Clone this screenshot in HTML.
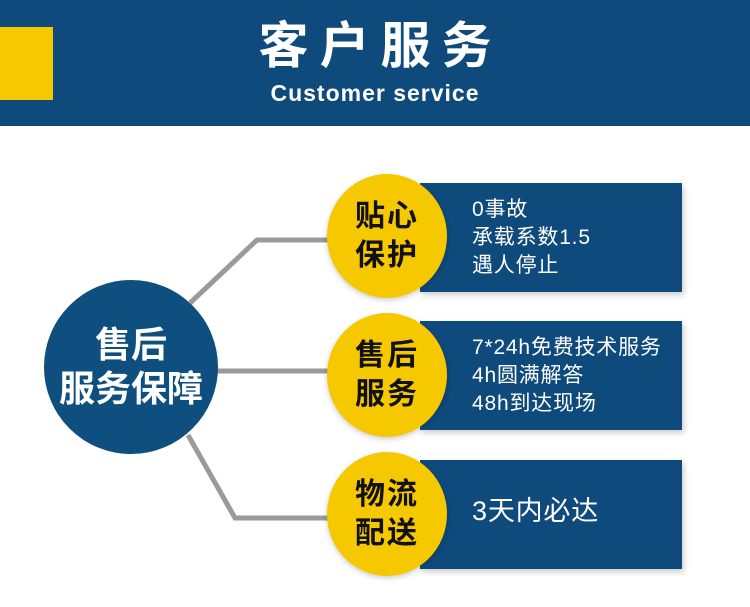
<!DOCTYPE html>
<html><head><meta charset="utf-8"><style>
body{margin:0;width:750px;height:607px;background:#fff;position:relative;overflow:hidden;font-family:"Liberation Sans","Noto Sans CJK SC",sans-serif}
.a{position:absolute}
.hdr{left:0;top:0;width:750px;height:126px;background:#0e4a7c}
.ysq{left:0;top:27px;width:53px;height:73px;background:#f6c800}
.t1{left:0;width:750px;top:16px;text-align:center;color:#fff;font-size:50px;font-weight:bold;letter-spacing:11px;text-indent:11px;line-height:60px}
.t2{left:0;width:750px;top:80px;text-align:center;color:#fff;font-size:23px;font-weight:bold;letter-spacing:1px}
.rect{left:420px;width:262px;height:109px;background:#0e4a7c;color:#fff;font-size:21px;letter-spacing:0.8px;line-height:28px;box-shadow:2px 3px 6px rgba(0,0,0,.2)}
.rect div{padding-left:52px}
.yc{width:120px;height:124px;border-radius:50%;background:#f6c800;left:327px;color:#111;font-size:30px;font-weight:bold;line-height:39px;letter-spacing:2px;text-align:center;display:flex;align-items:center;justify-content:center;box-shadow:0 2px 6px rgba(0,0,0,.2)}
.bc{left:44px;top:280px;width:174px;height:174px;border-radius:50%;background:#0e4f80;color:#fff;font-size:36px;font-weight:bold;line-height:44px;text-align:center;display:flex;align-items:center;justify-content:center}
</style></head><body>
<div class="a hdr"></div><div class="a ysq"></div>
<div class="a t1">客户服务</div>
<div class="a t2">Customer service</div>
<svg class="a" style="left:0;top:0" width="750" height="607"><g stroke="#9a9a9a" stroke-width="5" fill="none"><polyline points="190,303 257,240 340,240"/><line x1="210" y1="371" x2="340" y2="371"/><polyline points="188,435 235,518 340,518"/></g></svg>
<div class="a rect" style="top:183px"><div style="padding-top:13px">0事故<br>承载系数1.5<br>遇人停止</div></div>
<div class="a rect" style="top:321px"><div style="padding-top:13px">7*24h免费技术服务<br>4h圆满解答<br>48h到达现场</div></div>
<div class="a rect" style="top:460px;font-size:27px"><div style="padding-top:37px">3天内必达</div></div>
<div class="a yc" style="top:174px">贴心<br>保护</div>
<div class="a yc" style="top:313px">售后<br>服务</div>
<div class="a yc" style="top:452px">物流<br>配送</div>
<div class="a bc"><div>售后<br>服务保障</div></div>
</body></html>
